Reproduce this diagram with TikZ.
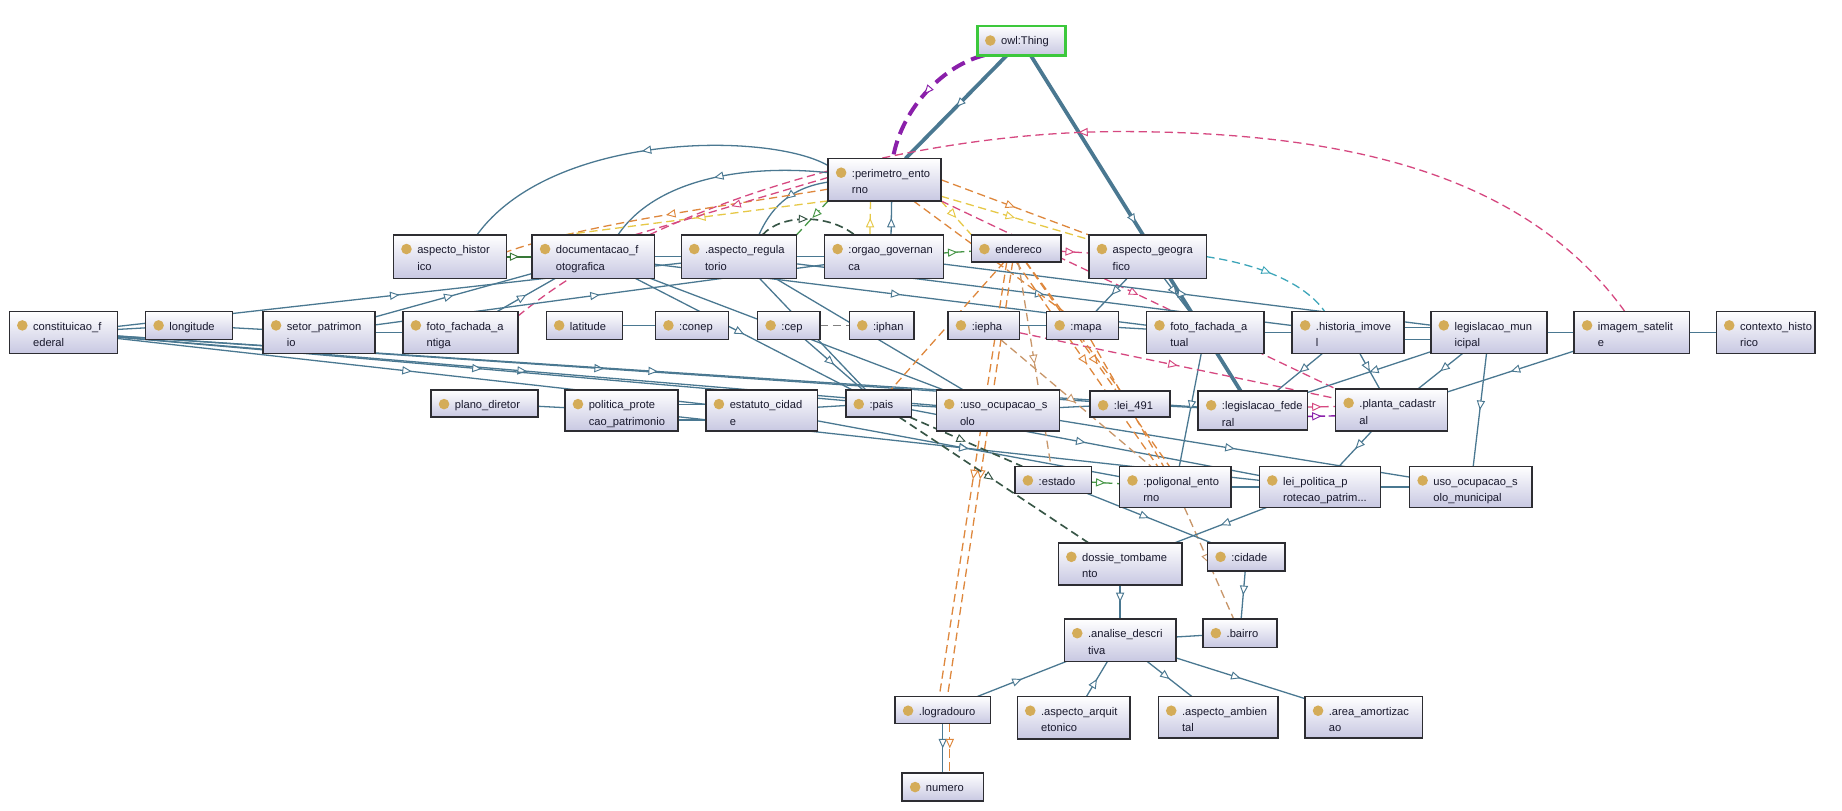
\documentclass[tikz,border=0pt]{standalone}
\usepackage{fontspec}
\setmainfont{Liberation Sans}
\usetikzlibrary{arrows.meta,decorations.markings}
\pgfdeclarelayer{bgfill}
\pgfdeclarelayer{edges}
\pgfsetlayers{bgfill,edges,main}
\definecolor{esb}{RGB}{74,120,145}
\definecolor{eor}{RGB}{222,135,60}
\definecolor{eye}{RGB}{230,200,70}
\definecolor{epk}{RGB}{214,72,128}
\definecolor{epu}{RGB}{138,32,170}
\definecolor{egr}{RGB}{70,150,70}
\definecolor{edk}{RGB}{55,85,70}
\definecolor{ecy}{RGB}{60,165,185}
\definecolor{etn}{RGB}{200,150,105}
\definecolor{boxlow}{RGB}{200,200,226}
\definecolor{boxline}{RGB}{45,45,50}
\definecolor{icongold}{RGB}{212,172,88}
\definecolor{txtc}{RGB}{25,25,45}
\definecolor{thinggreen}{RGB}{60,200,60}
\tikzset{
  obox/.style={rectangle, draw=boxline, line width=1.3pt, top color=white, bottom color=boxlow, inner sep=0pt, outer sep=0pt},
  icon/.style={fill=icongold},
  otxt/.style={anchor=base west, inner sep=0pt, font=\fontsize{9.5}{11}\selectfont, text=txtc},
  midtri/.style={postaction={decorate}, decoration={markings, mark=at position 0.5 with {\arrow{Triangle[fill=white,length=8pt,width=7pt,line width=0.8pt]}}}},
  sb/.style={color=esb, line width=1.1pt, midtri},
  sbn/.style={color=esb, line width=1.1pt},
  sbt/.style={color=esb, line width=3.2pt, midtri},
  sgr/.style={color=egr!80!black, line width=2pt, midtri},
  dbase/.style={line width=1.1pt, dash pattern=on 7pt off 4pt, midtri},
  dor/.style={dbase, color=eor},
  dye/.style={dbase, color=eye},
  dpk/.style={dbase, color=epk},
  dgr/.style={dbase, color=egr},
  ddk/.style={dbase, color=edk, line width=1.4pt},
  dcy/.style={dbase, color=ecy},
  dtn/.style={dbase, color=etn},
  dgy/.style={line width=1.1pt, dash pattern=on 7pt off 4pt, color=gray},
  dpu/.style={color=epu, line width=3.4pt, dash pattern=on 12pt off 6pt, midtri},
}
\newcommand{\ONode}[7]{%
  \node[obox, minimum width={(#4-#2)*1pt}, minimum height={(#5-#3)*1pt}] (#1) at ({(#2+#4)/2},{-(#3+#5)/2}) {};
  \fill[icon] ({#2+11},{-#3-12}) circle (4.5pt);
  \node[otxt] at ({#2+20},{-#3-16}) {#6};
  \node[otxt] at ({#2+20},{-#3-30}) {#7};
}
\begin{document}
\begin{tikzpicture}[x=1pt,y=1pt]
\begin{pgfonlayer}{bgfill}
\fill[white] (0,0) rectangle (1568,-690);
\end{pgfonlayer}
\useasboundingbox (0,0) rectangle (1568,-690);

% ---------- nodes ----------
\node[obox, draw=thinggreen, line width=2.2pt, minimum width=75pt, minimum height=25pt] (th) at (869.5,-34.5) {};
\fill[icon] (843,-34.5) circle (4.5pt);
\node[otxt] at (852,-38) {owl:Thing};

\ONode{pe}{705}{135}{801}{171}{:perimetro\_ento}{rno}
\ONode{ah}{335}{200}{431}{237}{aspecto\_histor}{ico}
\ONode{dc}{453}{200}{557}{237}{documentacao\_f}{otografica}
\ONode{ar}{580}{200}{678}{237}{.aspecto\_regula}{torio}
\ONode{og}{702}{200}{803}{237}{:orgao\_governan}{ca}
\ONode{en}{827}{200}{903}{223}{endereco}{}
\ONode{ag}{927}{200}{1027}{237}{aspecto\_geogra}{fico}

\ONode{cf}{8}{265}{100}{301}{constituicao\_f}{ederal}
\ONode{lo}{124}{265}{198}{289}{longitude}{}
\ONode{sp}{224}{265}{319}{301}{setor\_patrimon}{io}
\ONode{fa}{343}{265}{441}{301}{foto\_fachada\_a}{ntiga}
\ONode{la}{465}{265}{530}{289}{latitude}{}
\ONode{cn}{558}{265}{620}{289}{:conep}{}
\ONode{ce}{645}{265}{698}{289}{:cep}{}
\ONode{ip}{723}{265}{778}{289}{:iphan}{}
\ONode{ie}{807}{265}{868}{289}{:iepha}{}
\ONode{ma}{891}{265}{952}{289}{:mapa}{}
\ONode{ft}{976}{265}{1076}{301}{foto\_fachada\_a}{tual}
\ONode{hi}{1100}{265}{1195}{301}{.historia\_imove}{l}
\ONode{lm}{1218}{265}{1317}{301}{legislacao\_mun}{icipal}
\ONode{is}{1340}{265}{1438}{301}{imagem\_satelit}{e}
\ONode{ch}{1461}{265}{1545}{301}{contexto\_histo}{rico}

\ONode{pd}{367}{332}{458}{355}{plano\_diretor}{}
\ONode{pp}{481}{332}{577}{367}{politica\_prote}{cao\_patrimonio}
\ONode{ec}{601}{332}{696}{367}{estatuto\_cidad}{e}
\ONode{pa}{720}{332}{776}{355}{:pais}{}
\ONode{us}{797}{332}{902}{367}{:uso\_ocupacao\_s}{olo}
\ONode{lq}{928}{333}{996}{355}{:lei\_491}{}
\ONode{lf}{1020}{333}{1113}{366}{:legislacao\_fede}{ral}
\ONode{pc}{1137}{331}{1232}{367}{.planta\_cadastr}{al}

\ONode{es}{864}{397}{929}{420}{:estado}{}
\ONode{po}{953}{397}{1048}{432}{:poligonal\_ento}{rno}
\ONode{lp}{1072}{397}{1175}{432}{lei\_politica\_p}{rotecao\_patrim...}
\ONode{um}{1200}{397}{1304}{432}{uso\_ocupacao\_s}{olo\_municipal}

\ONode{dt}{901}{462}{1006}{498}{dossie\_tombame}{nto}
\ONode{ci}{1028}{462}{1094}{486}{:cidade}{}
\ONode{ad}{906}{527}{1001}{563}{.analise\_descri}{tiva}
\ONode{ba}{1024}{527}{1087}{551}{.bairro}{}
\ONode{lg}{762}{593}{843}{616}{.logradouro}{}
\ONode{aa}{866}{593}{962}{629}{.aspecto\_arquit}{etonico}
\ONode{am}{986}{593}{1088}{628}{.aspecto\_ambien}{tal}
\ONode{az}{1111}{593}{1211}{628}{.area\_amortizac}{ao}
\ONode{nu}{768}{658}{837}{682}{numero}{}

% ---------- edges ----------
\begin{pgfonlayer}{edges}
% owl:Thing
\draw[sbt] (th) -- (pe);
\draw[sbt] (th) -- (lf);
\draw[dpu] ([xshift=6pt]th.south west) .. controls (805,-55) and (768,-90) .. ([xshift=7pt]pe.north);
% long pink curve imagem -> foto antiga
\draw[dpk] ([xshift=-6pt]is.north) .. controls (1300,-150) and (1150,-112) .. (953,-112)
   .. controls (780,-112) and (560,-170) .. ([yshift=-4pt]fa.north east);
% arcs from perimetro
\draw[sb] ([yshift=12pt]pe.west) .. controls (655,-112) and (470,-112) .. ([xshift=23pt]ah.north);
\draw[sb] ([yshift=6pt]pe.west) .. controls (640,-140) and (560,-150) .. ([xshift=21pt]dc.north);
\draw[sb] ([yshift=-2pt]pe.west) .. controls (670,-160) and (655,-180) .. ([xshift=17pt]ar.north);
\draw[dor] ([yshift=-8pt]pe.west) .. controls (620,-175) and (500,-190) .. ([yshift=4pt]ah.east);
\draw[dye] (pe.south west) -- ([xshift=-25pt]dc.north);
\draw[dpk] ([yshift=2pt]pe.west) -- ([xshift=35pt]dc.north);
\draw[dgr] (pe.south west) -- (ar.north east);
\draw[ddk] ([xshift=20pt]ar.north) .. controls (665,-182) and (705,-182) .. ([xshift=-25pt]og.north);
\draw[dye] ([xshift=-12pt]og.north) -- ([xshift=-12pt]pe.south);
\draw[sb] ([xshift=6pt]og.north) -- ([xshift=6pt]pe.south);
\draw[dye] (pe.south east) -- (en.north west);
\draw[dor] (pe.east) -- (ag.north west);
\draw[dye] (pe) -- (ag);
\draw[dpk] (pe.south east) -- (pc.north west);
\draw[dor] (pe) -- (ma);
\draw[dcy] (ag.east) .. controls (1070,-225) and (1110,-240) .. ([xshift=-20pt]hi.north);
% top row
\draw[sgr] (ah) -- (dc);
\draw[sbn] (dc) -- (ar);
\draw[sbn] (ar) -- (og);
\draw[dgr] (og) -- (en);
\draw[dpk] (en) -- (ag);
% row 3 neighbours
\draw[sbn] (cf) -- (lo);
\draw[sbn] (lo) -- (sp);
\draw[sbn] (sp) -- (fa);
\draw[sbn] (la) -- (cn);
\draw[dgy] (ce) -- (ip);
\draw[sbn] (ie) -- (ma);
\draw[sbn] (ma) -- (ft);
\draw[sbn] (ft) -- (hi);
\draw[sbn] ([yshift=4pt]hi.east) -- ([yshift=4pt]lm.west);
\draw[sbn] ([yshift=-6pt]hi.east) -- ([yshift=-6pt]lm.west);
\draw[sbn] (lm) -- (is);
\draw[sbn] (is) -- (ch);
% row 4 / 5 neighbours
\draw[sbn] (pd) -- (pp);
\draw[sbn] ([yshift=5pt]pp.east) -- ([yshift=5pt]ec.west);
\draw[sbn] ([yshift=-8pt]pp.east) -- ([yshift=-8pt]ec.west);
\draw[sbn] (ec) -- (pa);
\draw[sbn] (pa) -- (us);
\draw[sbn] (us) -- (lq);
\draw[sbn] (lq) -- (lf);
\draw[dpk] ([yshift=3pt]lf.east) -- ([yshift=3pt]pc.west);
\draw[dpu, line width=1.2pt, dash pattern=on 6pt off 3pt] ([yshift=-5pt]lf.east) -- ([yshift=-5pt]pc.west);
\draw[dgr] (es) -- (po);
\draw[sbn] (po) -- (lp);
\draw[sbn] (lp) -- (um);
% long solid edges
\draw[sb] (cf) -- (ec);
\draw[sb] (cf) -- (us);
\draw[sb] (cf) -- (lq);
\draw[sb] (cf) -- (lf);
\draw[sb] (cf) -- (pa);
\draw[sb] (cf) -- (ar);
\draw[sb] (sp) -- (og);
\draw[sb] (sp) -- (dc);
\draw[sb] (fa) -- (dc);
\draw[sb] (dc) -- (pa);
\draw[sb] (dc) -- (us);
\draw[sb] (ce) -- (pa);
\draw[sb] (ar) -- (pa);
\draw[sb] (ar) -- (us);
\draw[sb] (dc) -- (ft);
\draw[sb] (ar) -- (hi);
\draw[sb] (og) -- (lm);
\draw[sb] (ag) -- (ma);
\draw[sb] (ag) -- (ft);
\draw[sb] (ft) -- (po);
\draw[sb] (hi) -- (pc);
\draw[sb] (hi) -- (lf);
\draw[sb] (lm) -- (lf);
\draw[sb] (lm) -- (pc);
\draw[sb] (lm) -- (um);
\draw[sb] (is) -- (pc);
\draw[sb] (pc) -- (lp);
\draw[sb] (ec) -- (po);
\draw[sb] (pp) -- (lp);
\draw[sb] (pa) -- (lp);
\draw[sb] (us) -- (um);
% coloured dashed edges, middle
\draw[dpk] (ie) -- (pc);
\draw[dor] ([xshift=-8pt]en.south) -- ([xshift=-3pt]lg.north);
\draw[dor] ([xshift=-3pt]en.south) -- ([xshift=4pt]lg.north);
\draw[dor] (en.south) -- ([xshift=-15pt]po.north);
\draw[dor] ([xshift=8pt]en.south) -- ([xshift=-5pt]po.north);
\draw[dor] (ma) -- (po);
\draw[dtn] (ie) -- (po);
\draw[dor] (en) -- (lq);
\draw[dtn] (en) -- (es);
\draw[dor] (en) -- (pa);
\draw[ddk] (pa) -- (dt);
\draw[ddk] (pa) -- (es);
\draw[dtn] (po) -- (ba);
% lower part
\draw[sb] (es) -- (ci);
\draw[sb] (lp) -- (dt);
\draw[sb] (dt) -- (ad);
\draw[sb] (ci) -- (ba);
\draw[sb] (lg) -- (ad);
\draw[sb] (aa) -- (ad);
\draw[sb] (ad) -- (am);
\draw[sb] (ad) -- (az);
\draw[sbn] (ad) -- (ba);
\draw[sb] (lg) -- (nu);
\draw[dor] ([xshift=6pt]lg.south) -- ([xshift=6pt]nu.north);
\end{pgfonlayer}
\end{tikzpicture}
\end{document}
